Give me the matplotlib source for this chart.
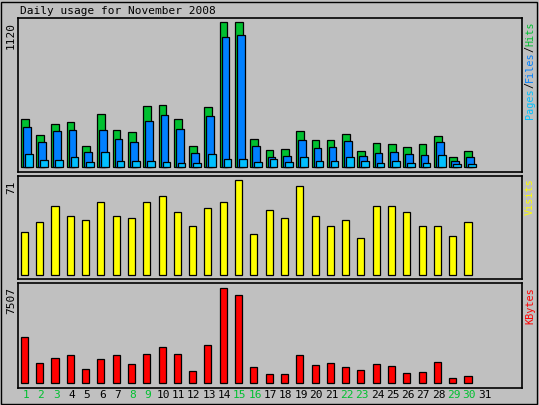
import matplotlib
matplotlib.use("Agg")
import matplotlib.pyplot as plt
from matplotlib.patches import Rectangle

days = list(range(1, 32))
hits = [371,247,332,347,162,409,286,270,471,479,371,162,463,1120,1119,216,131,139,278,208,208,255,124,185,178,154,178,239,77,124]
files = [309,193,278,286,116,286,216,193,355,401,293,108,394,1004,1019,162,77,85,208,147,154,201,85,108,116,100,93,193,46,77]
pages = [100,54,54,77,39,116,46,46,46,39,31,31,100,62,62,39,62,39,77,46,46,77,46,31,46,31,31,93,23,23]
visits = [32,40,52,44,41,55,44,43,55,59,47,37,50,55,71,31,49,43,67,44,37,41,28,52,52,47,37,37,29,40]
kbytes = [3635,1580,1976,2213,1106,1897,2213,1501,2292,2845,2292,948,3003,7507,6954,1264,711,711,2213,1422,1580,1264,1027,1501,1343,790,869,1660,395,553]
weekend = [1,2,3,8,9,15,16,22,23,29,30]
title = "Daily usage for November 2008"

W, H = 539, 405
BG = "#C0C0C0"
GREEN, BLUE, CYAN, YEL, RED = "#00C030", "#0080FF", "#00C0FF", "#FFFF00", "#FF0000"
MONO = "DejaVu Sans Mono"

fig = plt.figure(figsize=(W/100, H/100), dpi=100, facecolor=BG)
fig.patches.append(Rectangle((1/W, 1/H), 1-3/W, 1-3/H, transform=fig.transFigure,
                             fill=False, ec="black", lw=1))

def mkax(top, bot, ylim):
    ax = fig.add_axes([18/W, (H-bot)/H, 504/W, (bot-top)/H])
    ax.set_facecolor(BG)
    ax.set_xlim(0.35, 33.3)
    ax.set_ylim(*ylim)
    ax.set_xticks([]); ax.set_yticks([])
    for s in ax.spines.values():
        s.set_linewidth(1.2)
    return ax

n = len(hits)
x = [d for d in days[:n]]

ax1 = mkax(18, 172, (-38.6, 1150))
ax1.bar([d-0.46 for d in x], hits, width=0.5, align="edge", color=GREEN, ec="black", lw=0.9)
ax1.bar([d-0.33 for d in x], files, width=0.5, align="edge", color=BLUE, ec="black", lw=0.9)
ax1.bar([d-0.2 for d in x], pages, width=0.5, align="edge", color=CYAN, ec="black", lw=0.9)

ax2 = mkax(176, 279, (-2.8, 74.2))
ax2.bar([d-0.46 for d in x], visits, width=0.46, align="edge", color=YEL, ec="black", lw=0.9)

ax3 = mkax(283, 388, (-371, 7925))
ax3.bar([d-0.46 for d in x], kbytes, width=0.46, align="edge", color=RED, ec="black", lw=0.9)

for d in days:
    ax3.text(d-0.15, -0.02, str(d), transform=ax3.get_xaxis_transform(), ha="center", va="top",
             fontsize=8, family=MONO, color=GREEN if d in weekend else "black")

def ftext(px, py, s, **kw):
    fig.text(px/W, 1-py/H, s, family=MONO, **kw)

ftext(20, 11, title, fontsize=8, va="center", ha="left")
ftext(11, 22, "1120", fontsize=8, rotation=90, ha="center", va="top")
ftext(11, 180, "71", fontsize=8, rotation=90, ha="center", va="top")
ftext(11, 287, "7507", fontsize=8, rotation=90, ha="center", va="top")

def vlabel(px, ybottom, parts, fs=7.3):
    step = 6.1
    y = ybottom
    for s, c in parts:
        ftext(px, y, s, fontsize=fs, rotation=90, ha="center", va="bottom", color=c)
        y -= step*len(s)

vlabel(530, 119, [("Pages", CYAN), ("/", "black"), ("Files", BLUE), ("/", "black"), ("Hits", GREEN)])
vlabel(530, 215, [("Visits", YEL)])
vlabel(530, 324, [("KBytes", RED)])

fig.savefig("out.png", dpi=100, facecolor=BG)
